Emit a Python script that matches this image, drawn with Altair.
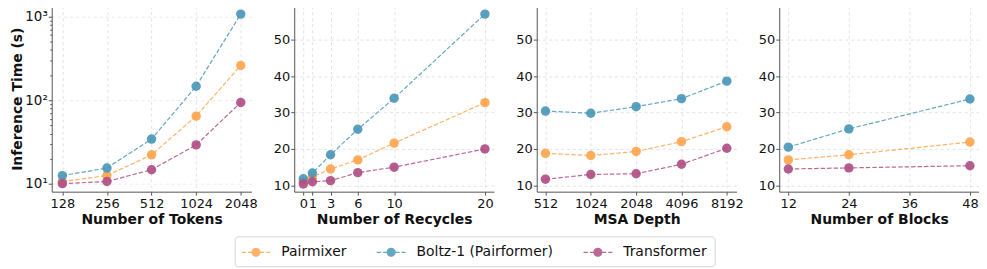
import altair as alt
import pandas as pd

# ---------------- data ----------------
series = ["Pairmixer", "Boltz-1 (Pairformer)", "Transformer"]
colors = ["#FFA54E", "#4A98B8", "#B04F86"]

tokens = [128, 256, 512, 1024, 2048]
tok_pair = [10.7, 12.6, 22.3, 64.6, 260]
tok_boltz = [12.6, 15.5, 34.4, 147, 1067]
tok_trans = [10.1, 10.7, 14.8, 29.3, 94]

recycles = [0, 1, 3, 6, 10, 20]
rec_pair = [11.1, 12.3, 14.5, 17.0, 21.6, 32.7]
rec_boltz = [11.8, 13.4, 18.4, 25.4, 33.9, 57.0]
rec_trans = [10.4, 11.0, 11.3, 13.5, 15.0, 20.0]

msa = [512, 1024, 2048, 4096, 8192]
msa_pair = [18.8, 18.2, 19.3, 22.0, 26.1]
msa_boltz = [30.4, 29.8, 31.6, 33.8, 38.6]
msa_trans = [11.7, 13.0, 13.2, 15.8, 20.2]

blocks = [12, 24, 48]
blk_pair = [17.0, 18.4, 21.9]
blk_boltz = [20.5, 25.5, 33.7]
blk_trans = [14.5, 14.8, 15.4]

x_titles = ["Number of Tokens", "Number of Recycles", "MSA Depth", "Number of Blocks"]
y_title = "Inference Time (s)"
log_minor = [10, 20, 30, 40, 50, 60, 70, 80, 90, 100, 200, 300, 400, 500, 600,
             700, 800, 900, 1000]
lin_y_ticks = [10, 20, 30, 40, 50]
block_ticks = [12, 24, 36, 48]


def make_df(xs, ys_list):
    rows = []
    for s, ys in zip(series, ys_list):
        for x, y in zip(xs, ys):
            rows.append({"series": s, "x": x, "y": y})
    return pd.DataFrame(rows)


FONT = "DejaVu Sans"
W, H = 201, 187

# legend symbol: dashed line with a dot (unit = 8px)
legend_path = ("M-1.125,0H-0.5625M-0.3125,0H0.1875"
               "M0.1875,0A0.5,0.5,0,1,0,1.1875,0A0.5,0.5,0,1,0,0.1875,0Z"
               "M1.1875,0H1.75M2,0H2.5")

legend = alt.Legend(
    title=None, orient="none", legendX=184, legendY=232, direction="horizontal",
    symbolType=legend_path, symbolSize=256, symbolStrokeWidth=1.2,
    labelFont=FONT, labelFontSize=14, labelColor="#111", labelOffset=22,
    columnPadding=27, padding=7, strokeColor="#d6d6d6", fillColor="white",
    cornerRadius=3,
)

cscale = alt.Scale(domain=series, range=colors)


def x_axis(title, values):
    return alt.Axis(values=values, title=title, format="d", labelFlush=False,
                    labelOverlap=False)


def panel(df, xscale, xaxis, yscale, yaxis):
    base = alt.Chart(df).encode(
        x=alt.X("x:Q", scale=xscale, axis=xaxis),
        y=alt.Y("y:Q", scale=yscale, axis=yaxis),
        order=alt.Order("ord:Q"),
    ).transform_calculate(
        ord="indexof(['Pairmixer','Boltz-1 (Pairformer)','Transformer'], datum.series)"
    )
    line = base.mark_line(strokeDash=[4.5, 2], strokeWidth=1.2, opacity=0.85).encode(
        stroke=alt.Stroke("series:N", scale=cscale, legend=legend, sort=series),
        order=alt.Order("x:Q"),
    )
    pts = base.mark_circle(size=90, opacity=0.92).encode(
        fill=alt.Fill("series:N", scale=cscale, legend=legend, sort=series),
    )
    return alt.layer(line, pts).properties(width=W, height=H)


major = "datum.value == 10 || datum.value == 100 || datum.value == 1000"

y_log_axis = alt.Axis(
    values=log_minor, title=y_title, labelOverlap=False, labelFontSize=13.5,
    labelExpr="datum.value == 10 ? '10¹' : datum.value == 100 ? '10²' : datum.value == 1000 ? '10³' : ''",
    tickSize={"condition": {"test": major, "value": 3.5}, "value": 2},
    gridOpacity={"condition": {"test": major, "value": 0.7}, "value": 0},
    titlePadding=0,
)
y_lin_axis = alt.Axis(values=lin_y_ticks, title=None, format="d", labelOverlap=False)

y_log = alt.Scale(type="log", domain=[8.1, 1340], nice=False)
y_lin = alt.Scale(domain=[8.28, 59.27], nice=False, zero=False)

p1 = panel(make_df(tokens, [tok_pair, tok_boltz, tok_trans]),
           alt.Scale(type="log", base=2, domain=[108.5, 2420], nice=False),
           x_axis(x_titles[0], tokens), y_log, y_log_axis)
p2 = panel(make_df(recycles, [rec_pair, rec_boltz, rec_trans]),
           alt.Scale(domain=[-1, 21], nice=False, zero=False),
           x_axis(x_titles[1], recycles), y_lin, y_lin_axis)
p3 = panel(make_df(msa, [msa_pair, msa_boltz, msa_trans]),
           alt.Scale(type="log", base=2, domain=[448, 9500], nice=False),
           x_axis(x_titles[2], msa), y_lin, y_lin_axis)
p4 = panel(make_df(blocks, [blk_pair, blk_boltz, blk_trans]),
           alt.Scale(domain=[10.2, 49.8], nice=False, zero=False),
           x_axis(x_titles[3], block_ticks), y_lin, y_lin_axis)

chart = alt.hconcat(p1, p2, p3, p4, spacing=43, bounds="flush").resolve_scale(
    x="independent", y="independent"
).properties(
    padding={"left": 2, "top": -3, "right": 0, "bottom": 0}
).configure_view(
    stroke=None
).configure_axis(
    labelFont=FONT, labelFontSize=13, labelColor="#111",
    titleFont=FONT, titleFontSize=14, titleFontWeight="bold", titleColor="#111",
    domainColor="#555", domainWidth=1, tickColor="#555", tickSize=3.5, tickWidth=1,
    grid=True, gridColor="#cccccc", gridDash=[3, 3], gridWidth=0.8, gridOpacity=0.7,
    labelPadding=1,
).configure_axisX(
    labelPadding=2, titlePadding=3,
)

chart.save("out.html", embed_options={"renderer": "svg", "actions": False})
